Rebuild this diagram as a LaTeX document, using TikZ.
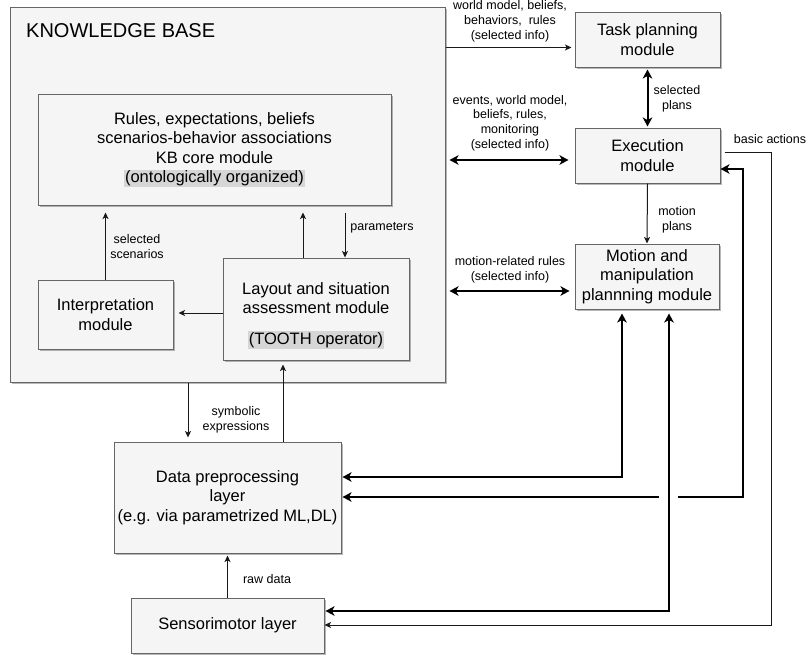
\documentclass[tikz,border=0pt]{standalone}
\usepackage{fontspec}
\setmainfont{Liberation Sans}
\usetikzlibrary{arrows.meta,shadows}
\definecolor{boxfill}{HTML}{F5F5F5}
\definecolor{boxline}{HTML}{666666}
\definecolor{hlgray}{HTML}{D6D6D6}
\newcommand{\hlmark}[1]{{\setlength{\fboxsep}{1pt}\colorbox{hlgray}{#1}}}
\newcommand{\boxfnt}{\fontsize{16.5}{19.5}\selectfont}
\newcommand{\lblfnt}{\fontsize{12.5}{14.8}\selectfont}
\tikzset{
  box/.style={draw=boxline, fill=boxfill, line width=1pt, align=center, font=\boxfnt, inner sep=0pt,
    drop shadow={shadow xshift=1.6pt, shadow yshift=-1.6pt, fill=black, opacity=0.28}},
  boxtext/.style={align=center, font=\boxfnt, inner sep=0pt},
  lbl/.style={font=\lblfnt, align=center, inner sep=0pt},
  tconn/.style={line width=1pt, draw=black!90, -{Stealth[length=6.5pt,width=6pt,inset=1.6pt]}},
  Tline/.style={line width=2pt, draw=black},
  Ttip/.tip={Stealth[length=9pt,width=9.5pt,inset=2.5pt]},
  Tboth/.style={Tline, Ttip-Ttip},
}
\begin{document}
\begin{tikzpicture}[x=1pt,y=-1pt]
\useasboundingbox (0,0) rectangle (808,656);
% Knowledge base container
\node[box, minimum width=435pt, minimum height=375pt] (kb) at (227.5,194.5) {};
\node[anchor=west, font=\fontsize{20}{24}\selectfont, inner sep=0pt] (kbt) at (26,31) {KNOWLEDGE BASE};
% inner modules
\node[box, minimum width=353pt, minimum height=111pt] (core) at (214.5,149.5)
  {Rules, expectations, beliefs\\scenarios-behavior associations\\KB core module\\\hlmark{(ontologically organized)}};
\node[box, minimum width=135pt, minimum height=69pt] (interp) at (105.5,314.5) {Interpretation\\module};
\node[box, minimum width=186pt, minimum height=102pt] (layout) at (316,309) {};
\node[boxtext] (layoutt) at (316,315.5) {Layout and situation\\assessment module\\[11pt]\hlmark{(TOOTH operator)}};
% right modules
\node[box, minimum width=145pt, minimum height=55pt] (task) at (647.5,39.5) {Task planning\\module};
\node[box, minimum width=145pt, minimum height=55pt] (exec) at (647.5,155.5) {Execution\\module};
\node[box, minimum width=144pt, minimum height=65pt] (motion) at (647,276.5) {Motion and\\manipulation\\plannning module};
% bottom layers
\node[box, minimum width=227pt, minimum height=111pt] (data) at (227.5,497.5) {Data preprocessing\\layer\\(e.g. via parametrized ML,DL)};
\node[box, minimum width=193pt, minimum height=55pt] (sensor) at (227.5,625.5) {Sensorimotor layer};

% connectors inside KB
\draw[tconn, shorten >=7pt] (interp.north) -- (interp.north |- core.south);
\node[lbl] (lsel) at (137,246.5) {selected\\scenarios};
\draw[tconn, shorten >=7pt] ([xshift=-13pt]layout.north) -- ([xshift=-13pt]layout.north |- core.south);
\draw[tconn, shorten <=7pt] ([xshift=29pt]layout.north |- core.south) -- ([xshift=29pt]layout.north);
\node[lbl] (lpar) at (382,228) {parameters};
\draw[tconn, shorten >=5pt] (layout.west |- 0,313) -- (interp.east |- 0,313);

% KB <-> data
\draw[tconn, shorten >=4pt] (kb.south -| 188,0) -- (data.north -| 188,0);
\draw[tconn, shorten >=4pt] (data.north -| 283,0) -- (layout.south -| 283,0);
\node[lbl] (lsym) at (236,420) {symbolic\\expressions};
\draw[tconn, shorten >=2pt] (sensor.north) -- (data.south);
\node[lbl] (lraw) at (267,579) {raw data};

% KB -> right modules
\draw[tconn, shorten >=3pt] (kb.east |- 0,47.5) -- (task.west |- 0,47.5);
\node[lbl] (lwm) at (510,21) {world model, beliefs,\\behaviors,\ \ rules\\(selected info)};
\draw[Tboth, shorten <=4pt, shorten >=6pt] (kb.east |- 0,160) -- (exec.west |- 0,160);
\node[lbl] (lev) at (510,123) {events, world model,\\beliefs, rules,\\monitoring\\(selected info)};
\draw[Tboth, shorten <=4pt, shorten >=5pt] (kb.east |- 0,291) -- (motion.west |- 0,291);
\node[lbl] (lmr) at (510,270) {motion-related rules\\(selected info)};

% right column
\draw[Tboth, shorten <=2pt, shorten >=1pt] (task.south) -- (exec.north);
\node[lbl] (lsp) at (677,98.5) {selected\\plans};
\draw[tconn] (exec.south) -- (motion.north);
\node[lbl] (lmp) at (677,219.5) {motion\\plans};

% feedback lines
\coordinate (ba) at (771,625);
\draw[tconn, shorten <=4pt] (exec.east |- 0,152) -| (ba) -- (sensor.east |- ba);
\node[lbl] (lba) at (770,139) {basic actions};

\coordinate (e1) at (743,497);
\coordinate (gapR) at (678,497);
\coordinate (gapL) at (659,497);
\draw[Tline, Ttip-] (exec.east |- 0,169) -| (e1) -- (gapR);
\draw[Tline, -Ttip, shorten >=1pt] (gapL) -- (data.east |- gapL);

\draw[Tboth, shorten <=4pt, shorten >=1pt] (motion.south -| 622,0) |- (data.east |- 0,477);
\draw[Tboth, shorten <=4pt, shorten >=1pt] (motion.south -| 669,0) |- (sensor.east |- 0,611);
\end{tikzpicture}
\end{document}
